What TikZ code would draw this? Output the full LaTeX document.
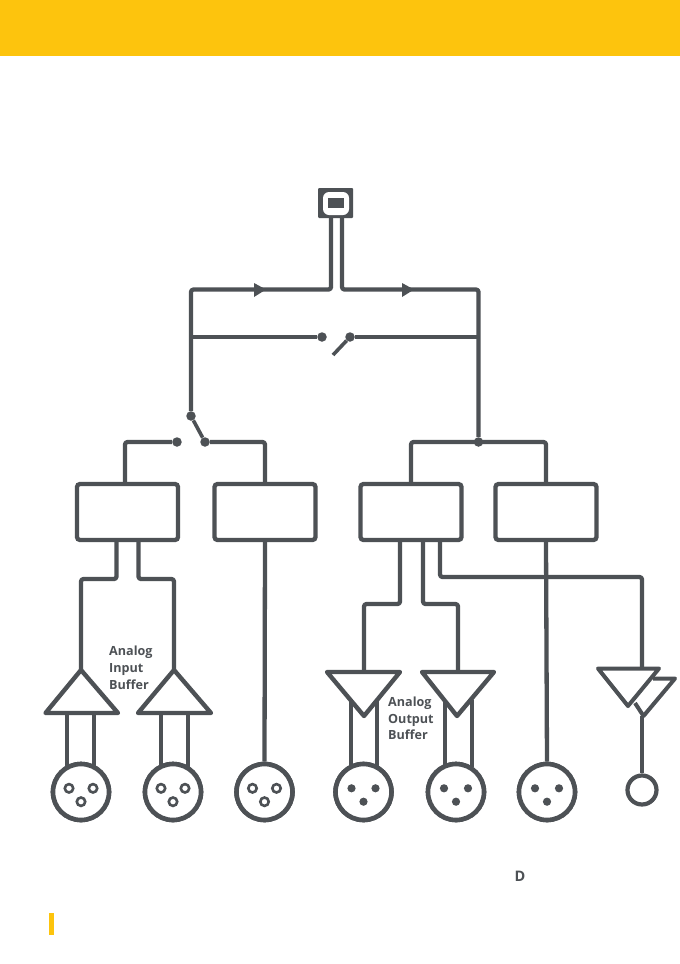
\documentclass[tikz,border=0pt]{standalone}
\usepackage{fontspec}
\setmainfont{Open Sans}
\usetikzlibrary{calc}
\definecolor{ink}{HTML}{4D5155}
\definecolor{band}{HTML}{FDC40D}
\tikzset{
  wire/.style={draw=ink,line width=4.3pt,line join=round,line cap=butt,rounded corners=2.5pt},
  shapeline/.style={draw=ink,line width=4.4pt,line join=round,fill=white},
  procbox/.style={draw=ink,line width=4.3pt,rounded corners=3pt,minimum width=101pt,minimum height=56pt,inner sep=0pt,fill=white},
  dot/.style={circle,fill=ink,inner sep=0pt,minimum size=9.5pt},
  xlr/.style={circle,draw=ink,line width=4.6pt,fill=white,inner sep=0pt,minimum size=56pt},
  lbl/.style={inner sep=0pt,anchor=base west,text=ink,font=\fontsize{12.6}{16}\selectfont\bfseries},
  flow/.style={fill=ink,draw=none}
}
\newcommand{\hollowpins}[1]{%
  \foreach \dx/\dy in {-12/-3.7,12/-3.7,0/9.7}
    \draw[ink,line width=2.6pt,fill=white] ($(#1)+(\dx,\dy)$) circle (4.2pt);}
\newcommand{\solidpins}[1]{%
  \foreach \dx/\dy in {-12/-3.7,12/-3.7,0/9.7}
    \fill[ink] ($(#1)+(\dx,\dy)$) circle (4.1pt);}
\begin{document}
\begin{tikzpicture}[x=1pt,y=-1pt]
\useasboundingbox (0,0) rectangle (680,964);
\fill[white] (0,0) rectangle (680,964);
\fill[band] (0,0) rectangle (680,56);
\fill[band] (49,913) rectangle (53.5,935);

% junctions
\coordinate (busL) at (191,289.5);
\coordinate (busR) at (478.5,289.5);
\coordinate (legL) at (331,218);
\coordinate (legR) at (342,218);

% processing boxes
\node[procbox] (b1) at (127.5,512) {};
\node[procbox] (b2) at (265,512) {};
\node[procbox] (b3) at (411,512) {};
\node[procbox] (b4) at (546,512) {};

% dots
\node[dot] (swA) at (322,337) {};
\node[dot] (swB) at (350,337) {};
\node[dot] (swC) at (191,416) {};
\node[dot] (swD) at (205,442) {};
\node[dot] (swE) at (177,442) {};
\node[dot] (jn) at (478.5,442) {};
\coordinate (midL) at (191,337);
\coordinate (midR) at (478.5,337);
\coordinate (bladeA) at (333,355);

% xlr circles
\node[xlr] (x1) at (81,792) {};
\node[xlr] (x2) at (173,792) {};
\node[xlr] (x3) at (264.5,792) {};
\node[xlr] (x4) at (363.5,792) {};
\node[xlr] (x5) at (456,792) {};
\node[xlr] (x6) at (547,792) {};
\node[circle,draw=ink,line width=4.2pt,fill=white,inner sep=0pt,minimum size=29pt] (jack) at (642,790) {};

% top wires
\draw[wire] (legL) -- (331,289.5) -- (busL) -- (swC);
\draw[wire] (legR) -- (342,289.5) -- (busR) -- (jn);
\draw[wire] (midL) -- (swA);
\draw[wire] (swB) -- (midR);
\draw[wire,line width=3.6pt] (swB) -- (bladeA);
\draw[wire,line width=3.6pt] (swC) -- (swD);
\draw[wire] (swE) -- (125,442) -- (125,484);
\draw[wire] (swD) -- (265,442) -- (b2.north);
\draw[wire] (411,484) -- (411,442) -- (546,442) -- (b4.north);
\fill[flow] (254,283) -- (266,289.5) -- (254,297) -- cycle;
\fill[flow] (402,283) -- (414,289.5) -- (402,297) -- cycle;

% USB connector
\node[fill=ink,minimum width=35pt,minimum height=30pt,inner sep=0pt,rounded corners=1pt] (usb) at (335.5,203) {};
\node[fill=white,minimum width=26pt,minimum height=23pt,inner sep=0pt,rounded corners=6pt] (usbin) at (336,203.5) {};
\node[fill=ink,minimum width=16pt,minimum height=10pt,inner sep=0pt] (usbpad) at (336,203) {};

% lower wires
\draw[wire] (116.5,540) -- (116.5,579) -- (81,579) -- (81,670);
\draw[wire] (138.5,540) -- (138.5,579) -- (174,579) -- (174,670);
\draw[wire] (b2.south) -- (x3.north);
\draw[wire] (400,540) -- (400,604) -- (364,604) -- (364,672);
\draw[wire] (423,540) -- (423,604) -- (458,604) -- (458,672);
\draw[wire] (440,540) -- (440,577) -- (642,577) -- (642,669);
\draw[wire] (b4.south) -- (x6.north);

% output legs (behind triangles)
\draw[wire] (351,700) -- (351,767);
\draw[wire] (377,700) -- (377,767);
\draw[wire] (445,700) -- (445,767);
\draw[wire] (472,700) -- (472,767);

% input triangles and legs
\draw[wire] (67,713) -- (67,767);
\draw[wire] (94,713) -- (94,767);
\draw[wire] (161,713) -- (161,767);
\draw[wire] (188,713) -- (188,767);
\draw[shapeline] (81,670) -- (118,713) -- (45.5,713) -- cycle;
\draw[shapeline] (174,670) -- (211,713) -- (138,713) -- cycle;

% output triangles
\draw[shapeline,fill=none] (327,672) -- (400,672) -- (364,716) -- cycle;
\draw[shapeline,fill=none] (422,672) -- (494,672) -- (457,716) -- cycle;

% small output amp
\draw[wire] (642,716) -- (jack.north);
\draw[shapeline,fill=none,line width=4pt] (653,678.5) -- (675,678.5) -- (643.5,716) -- (635,703);
\draw[shapeline,fill=none,line width=4pt] (598,668.5) -- (659,668.5) -- (628,706) -- cycle;

% re-stack circles
\node[xlr] at (x1) {};
\node[xlr] at (x2) {};
\node[xlr] at (x3) {};
\node[xlr] at (x4) {};
\node[xlr] at (x5) {};
\node[xlr] at (x6) {};
\hollowpins{x1}\hollowpins{x2}\hollowpins{x3}
\solidpins{x4}\solidpins{x5}\solidpins{x6}

% labels
\node[lbl] (la1) at (109,655) {Analog};
\node[lbl] (la2) at (109,672) {Input};
\node[lbl] (la3) at (109,689) {Buffer};
\node[lbl] (lb1) at (388,706) {Analog};
\node[lbl] (lb2) at (388,723) {Output};
\node[lbl] (lb3) at (388,739.5) {Buffer};
\node[inner sep=0pt,anchor=base west,text=ink,font=\fontsize{14.5}{16}\selectfont\bfseries] (dd) at (514.5,881.5) {D};
\end{tikzpicture}
\end{document}
